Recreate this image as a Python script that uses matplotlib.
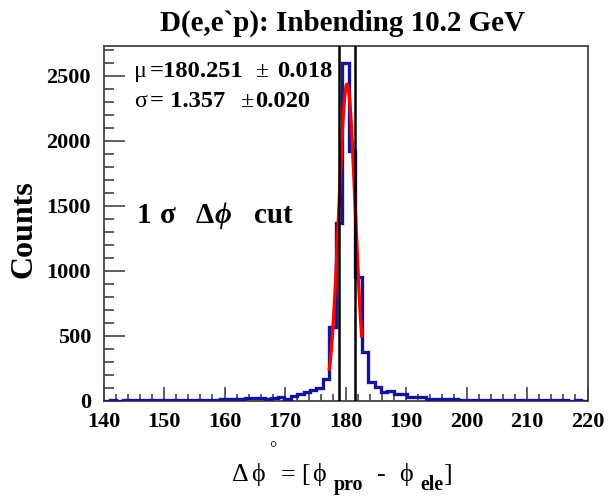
import numpy as np
import matplotlib
matplotlib.use("Agg")
import matplotlib.pyplot as plt
from matplotlib.ticker import MultipleLocator

# ---- data -------------------------------------------------------------
x_min, x_max, n_bins = 140.0, 220.0, 75
counts = [
    0, 1, 0, 1, 1, 2, 1, 2, 2, 3,          # 140 - 150.7
    3, 4, 3, 5, 4, 4, 5, 6, 8, 10,         # 150.7 - 161.3
    11, 13, 16, 18, 20, 12, 20, 25, 12, 37,  # 161.3 - 172.0
    47, 68, 78, 99, 165, 567, 1370, 2600, 1920, 950,  # 172.0 - 182.7
    375, 144, 101, 68, 75, 48, 48, 25, 25, 30,        # 182.7 - 193.3
    14, 14, 12, 12, 10, 6, 5, 6, 5, 3,                # 193.3 - 204.0
    4, 3, 2, 3, 2, 2, 1, 2, 1, 1,                     # 204.0 - 214.7
    1, 1, 0, 1, 0,                                    # 214.7 - 220.0
]
fit_mu, fit_mu_err = 180.251, 0.018
fit_sigma, fit_sigma_err = 1.357, 0.020
fit_amp = 2436.0
fit_lo, fit_hi = 177.33, 182.67
y_max = 2730.0

title = "D(e,e`p): Inbending 10.2 GeV"
y_label = "Counts"

# ---- figure -----------------------------------------------------------
W, H = 608, 497
fig = plt.figure(figsize=(W / 100, H / 100), dpi=100)
ax = fig.add_axes([103.5 / W, 1 - 400.5 / H, 484 / W, 354.5 / H])

serif = "Liberation Serif"
blue = "#14149a"

edges = np.linspace(x_min, x_max, n_bins + 1)
ax.stairs(counts, edges, baseline=0, color=blue, linewidth=2.4, zorder=3)

xf = np.linspace(fit_lo, fit_hi, 200)
yf = fit_amp * np.exp(-0.5 * ((xf - fit_mu) / fit_sigma) ** 2)
ax.plot(xf, yf, color="#ff0000", linewidth=2.4, zorder=4)

for xc in (fit_mu - fit_sigma, fit_mu + fit_sigma):
    ax.axvline(xc, color="black", linewidth=1.8, zorder=5)

ax.set_xlim(x_min, x_max)
ax.set_ylim(0, y_max)

ax.xaxis.set_major_locator(MultipleLocator(10))
ax.xaxis.set_minor_locator(MultipleLocator(2))
ax.yaxis.set_major_locator(MultipleLocator(500))
ax.yaxis.set_minor_locator(MultipleLocator(100))
ax.tick_params(axis="x", which="major", direction="in", length=10, width=1.2,
               color="#444444", pad=8, top=False)
ax.tick_params(axis="x", which="minor", direction="in", length=5, width=1.2,
               color="#444444", top=False)
ax.tick_params(axis="y", which="major", direction="in", length=15, width=1.2,
               color="#444444", pad=9, right=False)
ax.tick_params(axis="y", which="minor", direction="in", length=7.5, width=1.2,
               color="#444444", right=False)
for lab in ax.get_xticklabels() + ax.get_yticklabels():
    lab.set_fontfamily(serif)
    lab.set_fontweight("bold")
    lab.set_fontsize(16)
for sp in ax.spines.values():
    sp.set_color("#444444")
    sp.set_linewidth(1.3)

# ---- text helpers (pixel coordinates from the top-left corner) --------
def put(s, x, y, size, weight="normal", style="normal", ha="left", va="baseline",
        rotation=0):
    fig.text(x / W, 1 - y / H, s, fontsize=size * 0.72, family=[serif, "DejaVu Serif"],
             fontweight=weight, fontstyle=style, ha=ha, va=va, rotation=rotation)

put(title, 343, 31, 29, weight="bold", ha="center")
put(y_label, 24, 229, 32, weight="bold", ha="center", va="center", rotation=90)

# fit results
put("\u03bc", 134, 77, 24)
put("=180.251", 150, 77, 24.5, weight="bold")
put("\u00b1", 256, 77, 24)
put("0.018", 277, 77, 24.5, weight="bold")
put("\u03c3", 134, 107, 24)
put("= 1.357", 149.5, 107, 24.5, weight="bold")
put("\u00b1", 241, 107, 24)
put("0.020", 255, 107, 24.5, weight="bold")

# cut annotation
put("1", 137, 223, 29, weight="bold")
put("\u03c3", 160, 223, 29, weight="bold")
put("\u0394", 196, 223, 29, weight="bold")
put("\u03d5", 215, 223, 29, weight="bold", style="italic")
put("cut", 254, 223, 29, weight="bold")

# x-axis title
put("\u0394", 232, 481, 26)
put("\u03d5", 251, 481, 26)
put("\u00b0", 273, 454, 18, ha="center")
put("=", 281, 481, 26)
put("[", 301, 481, 26)
put("\u03d5", 312, 481, 26)
put("pro", 334, 490, 20, weight="bold")
put("-", 377, 481, 26)
put("\u03d5", 399, 481, 26)
put("ele", 420, 490, 20, weight="bold")
put("]", 443, 481, 26)

fig.savefig("out.png", dpi=100)
